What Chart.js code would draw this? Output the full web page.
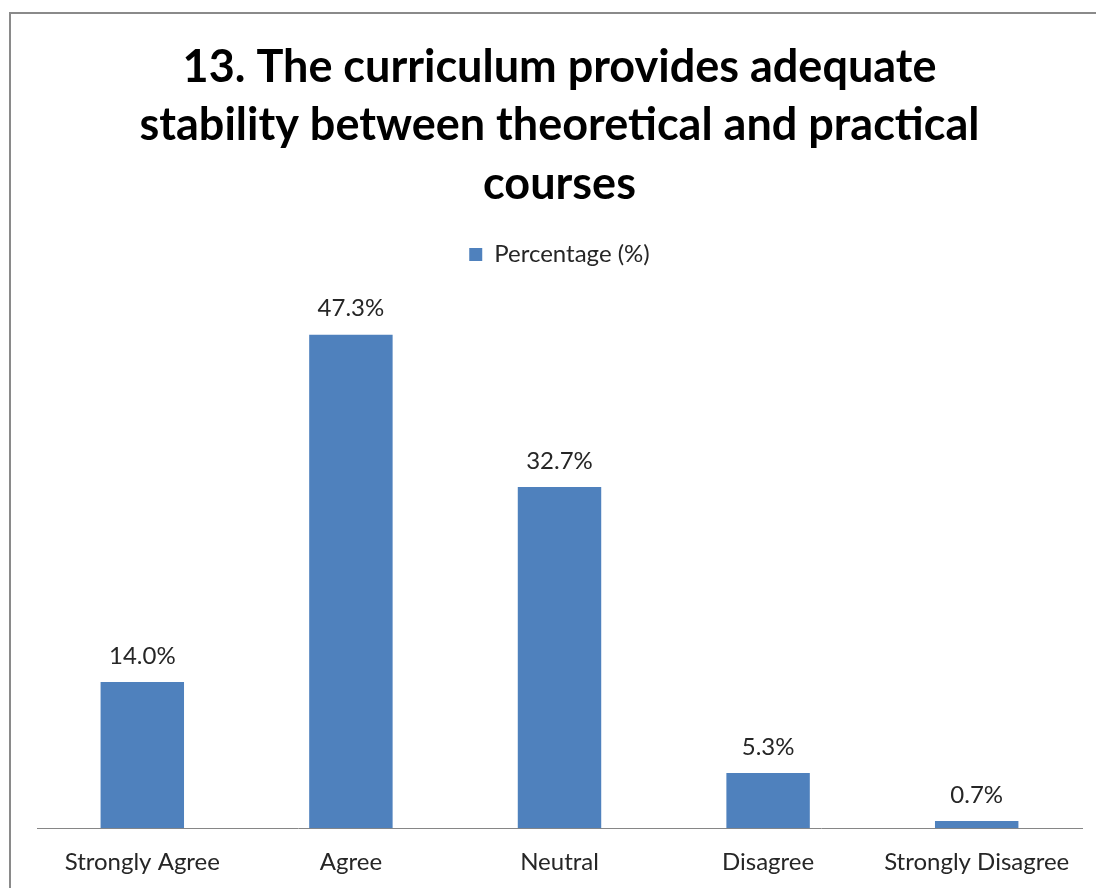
<!DOCTYPE html>
<html>
<head>
<meta charset="utf-8">
<script src="https://cdn.jsdelivr.net/npm/chart.js@4"></script>
<style>
  html, body { margin: 0; padding: 0; background: #fff; }
  #wrap { position: relative; width: 1096px; height: 888px; overflow: hidden; }
</style>
</head>
<body>
<div id="wrap"><canvas id="chart" width="1096" height="888"></canvas></div>
<script>
var categories = ['Strongly Agree', 'Agree', 'Neutral', 'Disagree', 'Strongly Disagree'];
var percentages = [14.0, 47.3, 32.7, 5.3, 0.7];
var seriesName = 'Percentage (%)';
var titleLines = ['13. The curriculum provides adequate', 'stability between theoretical and practical', 'courses'];

var FONT = 'Lato, "Open Sans", sans-serif';
var barColour = '#4F81BD';

// outer frame like the excel chart area
var framePlugin = {
  id: 'frame',
  beforeDraw: function(chart){
    var ctx = chart.ctx;
    ctx.save();
    ctx.fillStyle = '#fff';
    ctx.fillRect(0, 0, chart.width, chart.height);
    ctx.strokeStyle = '#8a8a8a';
    ctx.lineWidth = 2;
    ctx.strokeRect(10, 13, chart.width + 40, chart.height + 40);
    ctx.restore();
  }
};

// category axis line, spanning the category bands only
var baseLine = {
  id: 'baseLine',
  beforeDatasetsDraw: function(chart){
    var ctx = chart.ctx;
    var x = chart.scales.x;
    var n = categories.length;
    var step = x.getPixelForTick(1) - x.getPixelForTick(0);
    var x0 = x.getPixelForTick(0) - step / 2;
    var x1 = x.getPixelForTick(n - 1) + step / 2;
    var y = Math.round(chart.scales.y.getPixelForValue(0)) + 0.5;
    ctx.save();
    ctx.strokeStyle = '#868686';
    ctx.lineWidth = 1;
    ctx.beginPath();
    ctx.moveTo(x0 - 1, y);
    ctx.lineTo(x1 + 2, y);
    ctx.stroke();
    ctx.restore();
  }
};

// value labels above each bar
var valueLabels = {
  id: 'valueLabels',
  afterDatasetsDraw: function(chart){
    var ctx = chart.ctx;
    var meta = chart.getDatasetMeta(0);
    ctx.save();
    ctx.font = '24px ' + FONT;
    ctx.fillStyle = '#262626';
    ctx.textAlign = 'center';
    ctx.textBaseline = 'middle';
    meta.data.forEach(function(bar, i){
      ctx.fillText(percentages[i].toFixed(1) + '%', bar.x, bar.y - 26);
    });
    ctx.restore();
  }
};

// extra room under the legend
var legendGap = {
  id: 'legendGap',
  beforeInit: function(chart){
    var fit = chart.legend.fit;
    chart.legend.fit = function(){
      fit.bind(chart.legend)();
      this.height += 30;
    };
  }
};

new Chart(document.getElementById('chart'), {
  type: 'bar',
  data: {
    labels: categories,
    datasets: [{
      label: seriesName,
      data: percentages,
      backgroundColor: barColour,
      borderWidth: 0,
      barPercentage: 0.8,
      categoryPercentage: 0.5
    }]
  },
  options: {
    responsive: false,
    animation: false,
    layout: {padding: {left: 38, right: 15, top: 38, bottom: -9}},
    plugins: {
      title: {
        display: true,
        text: titleLines,
        color: '#000',
        font: {family: FONT, size: 45, weight: 'bold', lineHeight: 1.3},
        padding: {top: 0, bottom: 19}
      },
      legend: {
        display: true,
        labels: {
          color: '#262626',
          font: {family: FONT, size: 24},
          boxWidth: 13,
          boxHeight: 13
        }
      },
      tooltip: {enabled: false}
    },
    scales: {
      x: {
        grid: {display: false, drawTicks: false},
        border: {display: false},
        ticks: {color: '#262626', font: {family: FONT, size: 24}, padding: 20}
      },
      y: {
        display: false,
        min: 0,
        max: 50
      }
    }
  },
  plugins: [framePlugin, baseLine, valueLabels, legendGap]
});
</script>
</body>
</html>
